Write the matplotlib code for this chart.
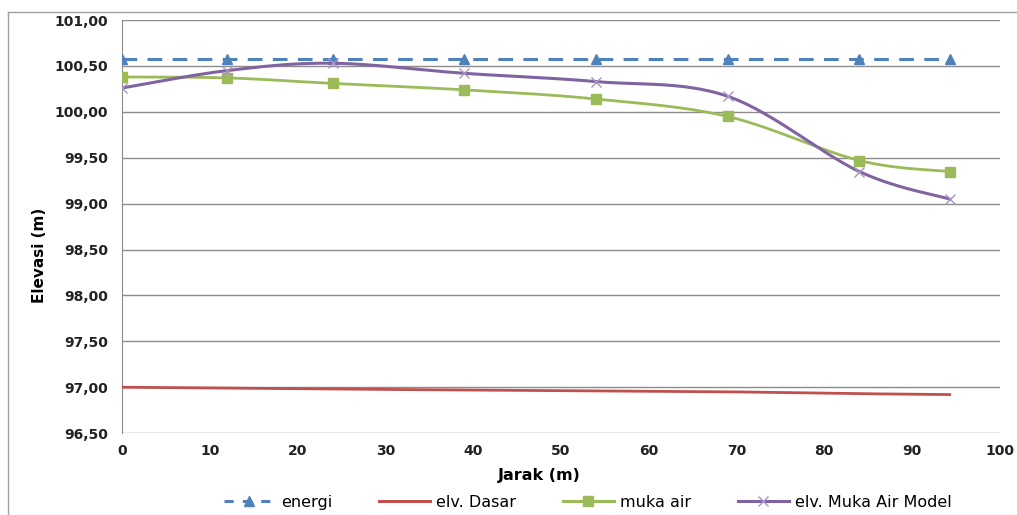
import numpy as np
import matplotlib
matplotlib.use("Agg")
import matplotlib.pyplot as plt
from matplotlib.lines import Line2D

# Distance along the channel (m)
jarak = [0, 12, 24, 39, 54, 69, 84, 94.3]

# Elevations (m)
energi = [100.58, 100.58, 100.58, 100.58, 100.58, 100.58, 100.58, 100.58]
elv_dasar = [97.00, 96.99, 96.98, 96.97, 96.96, 96.95, 96.93, 96.92]
muka_air = [100.38, 100.37, 100.31, 100.24, 100.14, 99.95, 99.47, 99.35]
muka_air_model = [100.26, 100.45, 100.53, 100.42, 100.33, 100.17, 99.35, 99.05]

x_ticks = list(range(0, 101, 10))
y_ticks = [96.5, 97.0, 97.5, 98.0, 98.5, 99.0, 99.5, 100.0, 100.5, 101.0]

series_names = ["energi", "elv. Dasar", "muka air", "elv. Muka Air Model"]
colors = ["#4F81BD", "#C0504D", "#9BBB59", "#8064A2"]


def smooth(xs, ys, n=30):
    """Catmull-Rom curve through the points (spreadsheet-style smoothed line)."""
    xs = np.asarray(xs, float)
    ys = np.asarray(ys, float)
    px = np.concatenate([[xs[0]], xs, [xs[-1]]])
    py = np.concatenate([[ys[0]], ys, [ys[-1]]])
    out_x, out_y = [], []
    t = np.linspace(0, 1, n)
    for i in range(1, len(px) - 2):
        p0x, p1x, p2x, p3x = px[i - 1], px[i], px[i + 1], px[i + 2]
        p0y, p1y, p2y, p3y = py[i - 1], py[i], py[i + 1], py[i + 2]
        c1x, c1y = p1x + (p2x - p0x) / 6, p1y + (p2y - p0y) / 6
        c2x, c2y = p2x - (p3x - p1x) / 6, p2y - (p3y - p1y) / 6
        bx = (1 - t) ** 3 * p1x + 3 * (1 - t) ** 2 * t * c1x + 3 * (1 - t) * t ** 2 * c2x + t ** 3 * p2x
        by = (1 - t) ** 3 * p1y + 3 * (1 - t) ** 2 * t * c1y + 3 * (1 - t) * t ** 2 * c2y + t ** 3 * p2y
        out_x.extend(bx if i == 1 else bx[1:])
        out_y.extend(by if i == 1 else by[1:])
    return np.array(out_x), np.array(out_y)


fig = plt.figure(figsize=(10.17, 5.15), dpi=100)
ax = fig.add_axes([0.120, 0.159, 0.863, 0.802])

# outer chart frame (top and left edges)
fig.add_artist(Line2D([0.008, 1.0], [0.977, 0.977], color="#A0A0A0", lw=1.0))
fig.add_artist(Line2D([0.008, 0.008], [0.0, 0.977], color="#A0A0A0", lw=1.0))

for yv in y_ticks:
    ax.axhline(yv, color="#8C8C8C", lw=1.0, zorder=0)

# energi: dashed line with triangles
ax.plot(jarak, energi, color=colors[0], lw=2.2, ls=(0, (4.8, 3.4)),
        marker="^", ms=7.5, mfc=colors[0], mec=colors[0], zorder=3)

# elv. Dasar
sx, sy = smooth(jarak, elv_dasar)
ax.plot(sx, sy, color=colors[1], lw=2.0, zorder=3)

# muka air
sx, sy = smooth(jarak, muka_air)
ax.plot(sx, sy, color=colors[2], lw=2.0, zorder=3)
ax.plot(jarak, muka_air, ls="none", marker="s", ms=6.5, color=colors[2], zorder=4)

# elv. Muka Air Model
sx, sy = smooth(jarak, muka_air_model)
ax.plot(sx, sy, color=colors[3], lw=2.2, zorder=5)
ax.plot(jarak, muka_air_model, ls="none", marker="x", ms=7, mew=1.0,
        color="#A895C4", zorder=6)

ax.set_xlim(0, 100)
ax.set_ylim(96.5, 101.0)
ax.set_xticks(x_ticks)
ax.set_yticks(y_ticks)
ax.set_yticklabels([f"{v:.2f}".replace(".", ",") for v in y_ticks],
                   fontsize=10, fontweight="bold", color="#222222")
ax.set_xticklabels([str(v) for v in x_ticks], fontsize=10, fontweight="bold",
                   color="#222222")
ax.tick_params(axis="both", length=0, pad=8)
ax.tick_params(axis="y", pad=10)

for side in ["top", "right", "bottom"]:
    ax.spines[side].set_visible(False)
ax.spines["left"].set_color("#8C8C8C")

ax.set_xlabel("Jarak (m)", fontsize=11.5, fontweight="bold")
ax.set_ylabel("Elevasi (m)", fontsize=11, fontweight="bold")
ax.xaxis.set_label_coords(0.475, -0.085)
ax.yaxis.set_label_coords(-0.086, 0.43)

handles = [
    Line2D([], [], color=colors[0], lw=2.2, ls=(0, (3, 3)), marker="^", ms=7.5),
    Line2D([], [], color=colors[1], lw=2.2),
    Line2D([], [], color=colors[2], lw=2.2, marker="s", ms=6.5),
    Line2D([], [], color=colors[3], lw=2.2, marker="x", ms=7, mec="#A895C4"),
]
fig.legend(handles, series_names, loc="center", bbox_to_anchor=(0.578, 0.025),
           ncol=4, frameon=False, fontsize=11.5, handlelength=3.2,
           columnspacing=2.9, numpoints=1, handletextpad=0.4)

fig.savefig("out.png", dpi=100, facecolor="white")
